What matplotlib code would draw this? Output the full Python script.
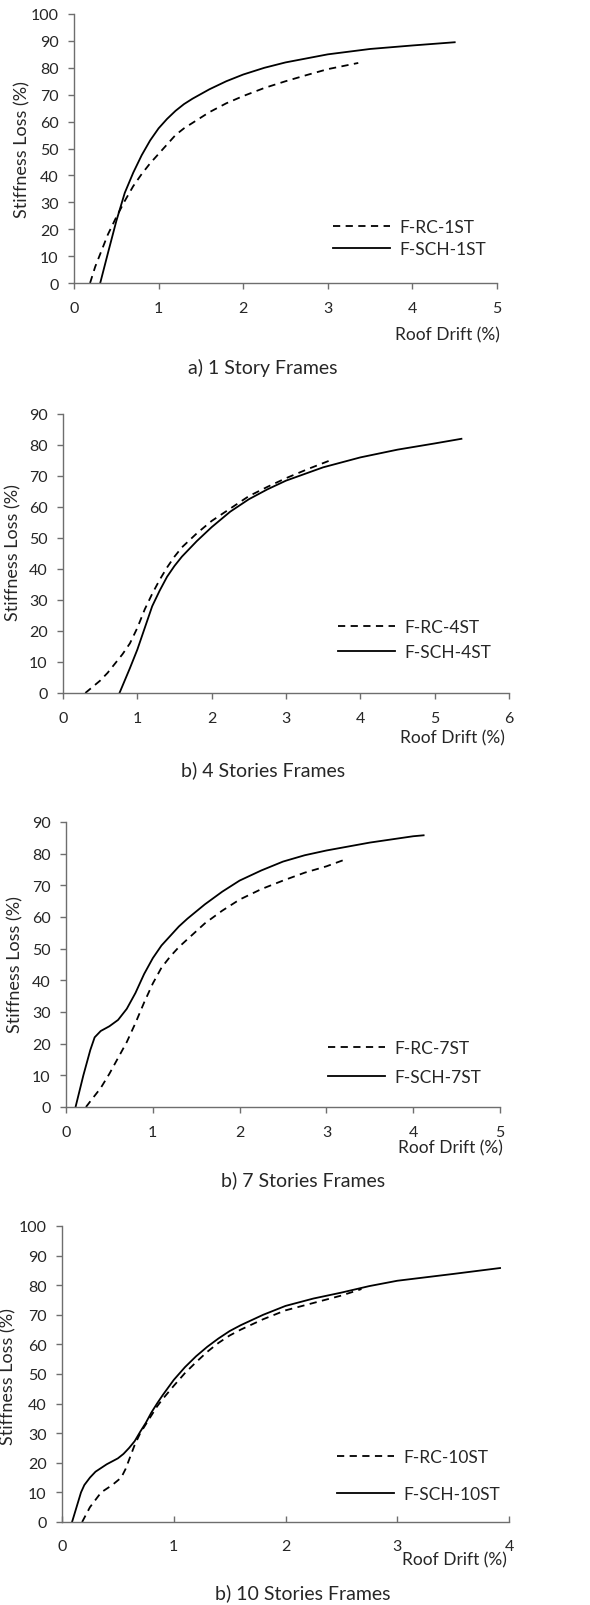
import matplotlib
matplotlib.use("Agg")
import matplotlib.pyplot as plt

plt.rcParams['font.family'] = ['Lato', 'DejaVu Sans']

W, H = 590, 1606

# ---- data (roof drift %, stiffness loss %) ----
rc1_x = [0.19, 0.25, 0.3, 0.4, 0.5, 0.6, 0.7, 0.8, 0.9, 1.0, 1.1, 1.2, 1.3, 1.4, 1.6, 1.8, 2.0, 2.25, 2.5, 2.75, 3.0, 3.36]
rc1_y = [0, 6, 10, 18, 24.5, 30.5, 36, 40.5, 44.5, 48, 51.5, 55, 57.5, 59.5, 63.5, 66.8, 69.5, 72.5, 75, 77.3, 79.5, 81.8]
sch1_x = [0.31, 0.4, 0.5, 0.6, 0.7, 0.8, 0.9, 1.0, 1.1, 1.2, 1.3, 1.4, 1.6, 1.8, 2.0, 2.25, 2.5, 3.0, 3.5, 4.0, 4.5]
sch1_y = [0, 11, 23, 33.5, 41, 47.5, 53, 57.5, 61, 64, 66.5, 68.5, 72, 75, 77.5, 80, 82, 85, 87, 88.3, 89.5]

rc4_x = [0.3, 0.4, 0.5, 0.6, 0.7, 0.8, 0.9, 1.0, 1.1, 1.2, 1.3, 1.4, 1.5, 1.6, 1.8, 2.0, 2.25, 2.5, 2.75, 3.0, 3.3, 3.59]
rc4_y = [0, 2, 4, 6.5, 9.5, 12.5, 16, 21, 27, 32, 36.5, 40.5, 44, 47, 51.5, 55.5, 59.5, 63.5, 66.5, 69.3, 72.3, 75]
sch4_x = [0.76, 0.9, 1.0, 1.1, 1.2, 1.3, 1.4, 1.5, 1.6, 1.8, 2.0, 2.25, 2.5, 2.75, 3.0, 3.5, 4.0, 4.5, 5.0, 5.36]
sch4_y = [0, 8, 14, 21, 28, 33, 37.5, 41, 44, 49, 53.5, 58.5, 62.5, 65.7, 68.5, 72.8, 76, 78.5, 80.5, 82]

rc7_x = [0.23, 0.3, 0.4, 0.5, 0.6, 0.7, 0.8, 0.9, 1.0, 1.1, 1.2, 1.3, 1.4, 1.6, 1.8, 2.0, 2.25, 2.5, 2.75, 3.0, 3.2]
rc7_y = [0, 2.5, 6, 10.5, 15.5, 20.5, 26.5, 33, 39, 44, 47.5, 50.5, 53, 58, 62, 65.5, 68.8, 71.5, 74, 76, 78]
sch7_x = [0.11, 0.2, 0.28, 0.33, 0.4, 0.5, 0.6, 0.7, 0.8, 0.9, 1.0, 1.1, 1.2, 1.3, 1.4, 1.6, 1.8, 2.0, 2.25, 2.5,
          2.75, 3.0, 3.5, 4.0, 4.12]
sch7_y = [0, 10, 18, 22, 24, 25.5, 27.5, 31, 36, 42, 47, 51, 54, 57, 59.5, 64, 68, 71.5, 74.7, 77.5,
          79.5, 81, 83.5, 85.5, 85.8]

rc10_x = [0.18, 0.25, 0.3, 0.35, 0.45, 0.53, 0.57, 0.6, 0.65, 0.7, 0.8, 0.85, 0.9, 1.0, 1.1, 1.2, 1.3, 1.4, 1.5,
          1.6, 1.8, 2.0, 2.25, 2.5, 2.68]
rc10_y = [0, 5, 7.5, 10, 12.5, 15, 18, 21, 26, 30, 36, 39, 41.5, 46, 50.3, 54, 57.5, 60.5, 63,
          65, 68.5, 71.5, 74, 76.5, 78.7]
sch10_x = [0.09, 0.13, 0.17, 0.2, 0.25, 0.3, 0.4, 0.5, 0.55, 0.6, 0.65, 0.7, 0.75, 0.8, 0.85, 0.9, 1.0, 1.1, 1.2,
           1.3, 1.4, 1.5, 1.6, 1.8, 2.0, 2.25, 2.5, 2.75, 3.0, 3.5, 3.92]
sch10_y = [0, 5, 10, 12.5, 15, 17, 19.5, 21.5, 23, 25, 27.3, 30.5, 33.5, 37, 40, 42.8, 48, 52.3, 56,
           59.2, 62, 64.5, 66.5, 70, 73, 75.5, 77.5, 79.7, 81.5, 83.8, 85.8]

labels = [("F-RC-1ST", "F-SCH-1ST"), ("F-RC-4ST", "F-SCH-4ST"),
          ("F-RC-7ST", "F-SCH-7ST"), ("F-RC-10ST", "F-SCH-10ST")]
titles = ["a) 1 Story Frames", "b) 4 Stories Frames", "b) 7 Stories Frames", "b) 10 Stories Frames"]
xmax = [5, 6, 5, 4]
ymax = [100, 90, 90, 100]
series = [(rc1_x, rc1_y, sch1_x, sch1_y), (rc4_x, rc4_y, sch4_x, sch4_y),
          (rc7_x, rc7_y, sch7_x, sch7_y), (rc10_x, rc10_y, sch10_x, sch10_y)]

# ---- layout in pixels: axes box (left, top, right, bottom) etc ----
boxes = [(74, 15, 497, 284), (63, 415, 509, 694), (66, 823, 500, 1108), (62, 1227, 509, 1523)]
xlab_pos = [(500, 335), (505, 738), (503, 1148), (507, 1560)]
title_pos = [(263, 368), (263, 770), (303, 1180), (303, 1593)]
ylab_pos = [(22, 150), (13, 553), (15, 965), (8, 1377)]
leg_pos = [(333, 220), (338, 620), (328, 1041), (337, 1450)]
leg_spacing = [0.35, 0.5, 0.75, 1.2]
xtick_dir = ['out', 'out', 'out', 'in']

axis_col = '#6e6e6e'
txt_col = '#262626'

fig = plt.figure(figsize=(W / 100, H / 100), dpi=100)

for i in range(4):
    l, t, r, b = boxes[i]
    ax = fig.add_axes([l / W, 1 - b / H, (r - l) / W, (b - t) / H])
    rx, ry, sx, sy = series[i]
    ax.plot(rx, ry, color='black', lw=1.3, ls=(0, (4, 3)), label=labels[i][0])
    ax.plot(sx, sy, color='black', lw=1.3, label=labels[i][1])
    ax.set_xlim(0, xmax[i])
    ax.set_ylim(0, ymax[i])
    ax.set_xticks(range(0, xmax[i] + 1))
    ax.set_yticks(range(0, ymax[i] + 1, 10))
    for s in ['top', 'right']:
        ax.spines[s].set_visible(False)
    for s in ['left', 'bottom']:
        ax.spines[s].set_color(axis_col)
        ax.spines[s].set_linewidth(1.0)
    ax.tick_params(axis='y', direction='out', length=4, width=1, color=axis_col,
                   labelsize=11.5, labelcolor=txt_col, pad=7)
    ax.tick_params(axis='x', direction=xtick_dir[i], length=4, width=1, color=axis_col,
                   labelsize=11.5, labelcolor=txt_col, pad=9 if xtick_dir[i] == 'out' else 12)
    ax.legend(loc='upper left', bbox_to_anchor=(leg_pos[i][0] / W, 1 - leg_pos[i][1] / H),
              bbox_transform=fig.transFigure, frameon=False, fontsize=12.5,
              handlelength=3.3, handletextpad=0.55, borderpad=0, borderaxespad=0,
              labelspacing=leg_spacing[i], labelcolor=txt_col)

    fig.text(xlab_pos[i][0] / W, 1 - xlab_pos[i][1] / H, "Roof Drift (%)", ha='right', va='center',
             fontsize=12.5, color=txt_col)
    fig.text(title_pos[i][0] / W, 1 - title_pos[i][1] / H, titles[i], ha='center', va='center',
             fontsize=14, color=txt_col)
    fig.text(ylab_pos[i][0] / W, 1 - ylab_pos[i][1] / H, "Stiffness Loss (%)", ha='center', va='center',
             rotation=90, fontsize=13, color=txt_col)

fig.savefig("out.png", dpi=100)
